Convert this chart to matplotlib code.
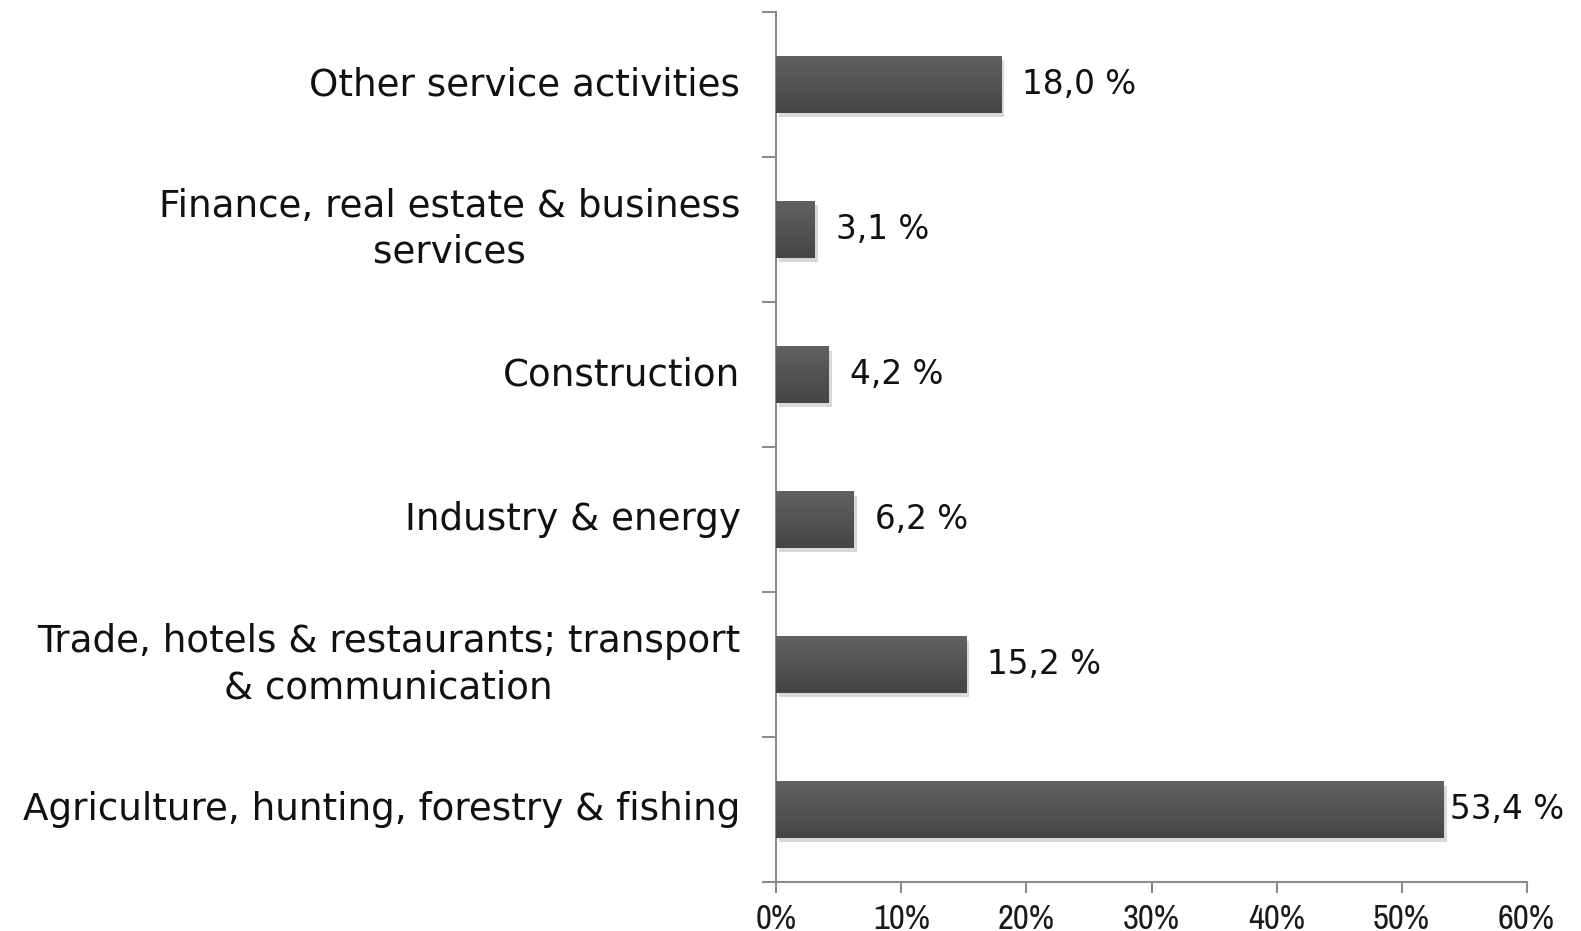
import numpy as np
import matplotlib
matplotlib.use("Agg")
import matplotlib.pyplot as plt
import matplotlib.patheffects as pe
from matplotlib import font_manager

# share of employment by sector, bottom to top
sectors = [
    "Agriculture, hunting, forestry & fishing",
    "Trade, hotels & restaurants; transport\n& communication",
    "Industry & energy",
    "Construction",
    "Finance, real estate & business\nservices",
    "Other service activities",
]
shares = [53.4, 15.2, 6.2, 4.2, 3.1, 18.0]
value_labels = ["53,4 %", "15,2 %", "6,2 %", "4,2 %", "3,1 %", "18,0 %"]
xticks = [0, 10, 20, 30, 40, 50, 60]

# a narrow face for the axis numbers if one is installed
names = sorted({f.name for f in font_manager.fontManager.ttflist})
narrow = [n for n in names if "Narrow" in n or "Condensed" in n]
tick_family = narrow[0] if narrow else "DejaVu Sans"
tick_size = 25 if narrow else 20

fig = plt.figure(figsize=(15.81, 9.31), dpi=100)
ax = fig.add_axes([0.4911, 0.0523, 0.4745, 0.9348])

y = np.arange(len(sectors))
bars = ax.barh(y, shares, height=0.39, color="#555555", edgecolor="none", zorder=2)

# soft drop shadow + vertical gradient on each bar
grad = np.linspace(0, 1, 64).reshape(-1, 1)
cmap = matplotlib.colors.LinearSegmentedColormap.from_list("bar", ["#454545", "#616161"])
for b in bars:
    b.set_path_effects([pe.SimplePatchShadow(offset=(2, -3), shadow_rgbFace="#aaaaaa", alpha=0.45),
                        pe.Normal()])
    x0, y0 = b.get_x(), b.get_y()
    im = ax.imshow(grad, cmap=cmap, aspect="auto", origin="lower",
                   extent=(x0, x0 + b.get_width(), y0, y0 + b.get_height()), zorder=3)
    im.set_clip_path(b)

for yi, v, lab in zip(y, shares, value_labels):
    # the long bar leaves little room, so its label hugs the bar end
    off = 15 if v < 50 else 4
    ax.annotate(lab, (v, yi), xytext=(off, 0), textcoords="offset points",
                va="center", ha="left", fontsize=23.5, color="#111111",
                family="DejaVu Sans")

ax.set_xlim(0, 60)
ax.set_ylim(-0.5, len(sectors) - 0.5)
ax.set_xticks(xticks)
ax.set_xticklabels([f"{t}%" for t in xticks], fontsize=tick_size,
                   family=tick_family, color="#1a1a1a")
ax.set_yticks(np.arange(len(sectors) + 1) - 0.5)
ax.set_yticklabels([])
ax.tick_params(axis="y", length=10, color="#8c8c8c", width=1.5)
ax.tick_params(axis="x", length=8, color="#8c8c8c", width=1.5, pad=7)

for yi, name in zip(y, sectors):
    ax.text(-0.048, yi, name, transform=ax.get_yaxis_transform(), ha="right", va="center",
            multialignment="center", fontsize=26.8, color="#111111",
            family="DejaVu Sans", linespacing=1.3)

for side in ["top", "right"]:
    ax.spines[side].set_visible(False)
for side in ["left", "bottom"]:
    ax.spines[side].set_color("#8c8c8c")
    ax.spines[side].set_linewidth(1.5)

fig.savefig("out.png", dpi=100)
